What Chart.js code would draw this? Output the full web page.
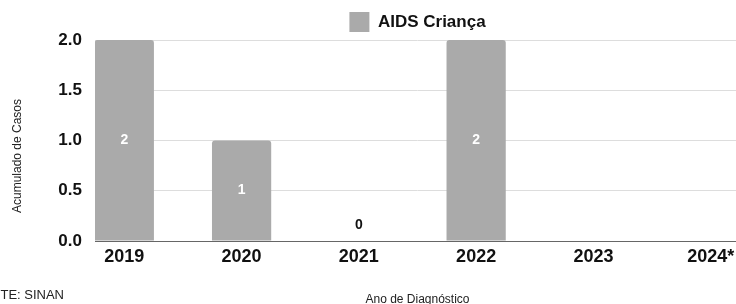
<!DOCTYPE html>
<html>
<head>
<meta charset="utf-8">
<script src="https://cdn.jsdelivr.net/npm/chart.js@4"></script>
<style>
  html, body { margin: 0; padding: 0; background: #fff; overflow: hidden; }
  #wrap { width: 740px; height: 304px; }
</style>
</head>
<body>
<div id="wrap"><canvas id="chart" width="740" height="304"></canvas></div>
<script>
// ─── Data ─────────────────────────────────────────────────────────────────────
const years  = ['2019', '2020', '2021', '2022', '2023', '2024*'];
const cases  = [2, 1, 0, 2, null, null];
const yTicks = [0, 0.5, 1, 1.5, 2];

const seriesName = 'AIDS Criança';
const yTitle     = 'Acumulado de Casos';
const xTitle     = 'Ano de Diagnóstico';
const sourceNote = 'FONTE: SINAN';

const FONT = '"Liberation Sans", Arial, sans-serif';
const INK  = '#111111';

// ─── Value labels inside / above the bars ─────────────────────────────────────
const barLabels = {
    id: 'barLabels',
    afterDatasetsDraw(chart) {
        const { ctx } = chart;
        const meta = chart.getDatasetMeta(0);
        ctx.save();
        ctx.font = `bold 14px ${FONT}`;
        ctx.textAlign = 'center';
        ctx.textBaseline = 'middle';
        meta.data.forEach((bar, i) => {
            const v = cases[i];
            if (v === null) return;
            if (v > 0) {
                ctx.fillStyle = '#ffffff';
                ctx.fillText(String(v), bar.x, (bar.y + bar.base) / 2);
            } else {
                ctx.fillStyle = INK;
                ctx.fillText(String(v), bar.x, bar.base - 16);
            }
        });
        ctx.restore();
    }
};

// ─── Y title + source note ────────────────────────────────────────────────────
const extraText = {
    id: 'extraText',
    afterDraw(chart) {
        const { ctx } = chart;
        ctx.save();
        ctx.fillStyle = '#222222';
        ctx.font = `12px ${FONT}`;
        ctx.textAlign = 'center';
        ctx.textBaseline = 'middle';
        ctx.translate(17.5, 156);
        ctx.rotate(-Math.PI / 2);
        ctx.fillText(yTitle, 0, 0);
        ctx.restore();

        ctx.save();
        ctx.fillStyle = '#222222';
        ctx.font = `13px ${FONT}`;
        ctx.textAlign = 'left';
        ctx.textBaseline = 'middle';
        ctx.fillText(sourceNote, -27, 295);
        ctx.restore();
    }
};

new Chart(document.getElementById('chart'), {
    type: 'bar',
    data: {
        datasets: [{
            label: seriesName,
            data: cases.map((v, i) => ({ x: i, y: v })),
            backgroundColor: '#aaaaaa',
            borderRadius: 3,
            borderSkipped: 'start',
            categoryPercentage: 1,
            barPercentage: 0.505
        }]
    },
    options: {
        responsive: false,
        animation: false,
        layout: { padding: { top: 2, left: 0, right: 0, bottom: 0 } },
        plugins: {
            tooltip: { enabled: false },
            legend: {
                position: 'top',
                fullSize: false,
                maxHeight: 38,
                labels: {
                    boxWidth: 20,
                    boxHeight: 20,
                    padding: 10,
                    color: INK,
                    font: { family: FONT, size: 17, weight: 'bold' }
                }
            }
        },
        scales: {
            x: {
                type: 'linear',
                offset: false,
                min: -0.25,
                max: 5.25,
                afterBuildTicks: (scale) => { scale.ticks = years.map((_, i) => ({ value: i })); },
                afterFit: (scale) => { scale.height = 63; },
                grid: { display: false, drawTicks: false, offset: false },
                border: { display: true, color: '#666666', width: 1 },
                ticks: {
                    autoSkip: false,
                    maxRotation: 0,
                    padding: 5,
                    color: INK,
                    font: { family: FONT, size: 18, weight: 'bold' },
                    callback: (v) => years[v] ?? ''
                },
                title: {
                    display: true,
                    text: xTitle,
                    color: '#222222',
                    padding: { top: 0, bottom: 0 },
                    font: { family: FONT, size: 12, lineHeight: 0.8 }
                }
            },
            y: {
                min: 0,
                max: 2,
                afterBuildTicks: (scale) => { scale.ticks = yTicks.map(v => ({ value: v })); },
                afterFit: (scale) => { scale.width = 95; },
                grid: { color: '#dddddd', drawTicks: false },
                border: { display: false },
                ticks: {
                    padding: 13,
                    color: INK,
                    font: { family: FONT, size: 17, weight: 'bold' },
                    callback: (v) => Number(v).toFixed(1)
                },
                title: { display: false }
            }
        }
    },
    plugins: [barLabels, extraText]
});
</script>
</body>
</html>
